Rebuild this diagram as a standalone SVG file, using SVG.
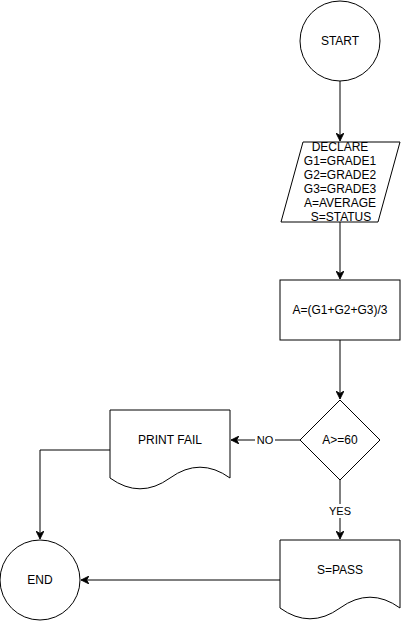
<svg xmlns="http://www.w3.org/2000/svg" width="401" height="621" viewBox="0 0 401 621">
<style>
.s{fill:#fff;stroke:#000;stroke-width:1}
.t{font-family:"Liberation Sans",Arial,sans-serif;font-size:12px;fill:#000;text-anchor:middle;dominant-baseline:central}
.l{font-family:"Liberation Sans",Arial,sans-serif;font-size:11px;fill:#000;text-anchor:middle;dominant-baseline:central}
.c{fill:none;stroke:#000;stroke-width:1}
</style>
<defs>
<marker id="a" viewBox="0 0 10 10" refX="10" refY="5" markerWidth="8" markerHeight="8" markerUnits="userSpaceOnUse" orient="auto">
<path d="M0,0 L10,5 L0,10 L3,5 z" fill="#000" stroke="#000" stroke-width="1"/>
</marker>
</defs>
<rect width="401" height="621" fill="#fff"/>
<g id="connectors">
<path class="c" d="M340,81 L340,141" marker-end="url(#a)"/>
<path class="c" d="M340,222 L340,279" marker-end="url(#a)"/>
<path class="c" d="M340,340 L340,399" marker-end="url(#a)"/>
<path class="c" d="M300,440 L231,440" marker-end="url(#a)"/>
<rect x="255" y="433" width="20" height="14" fill="#fff"/>
<text class="l" x="265" y="440">NO</text>
<path class="c" d="M340,480 L340,539" marker-end="url(#a)"/>
<rect x="328" y="504" width="24" height="14" fill="#fff"/>
<text class="l" x="340" y="511">YES</text>
<path class="c" d="M110,450 L40,450 L40,539" marker-end="url(#a)"/>
<path class="c" d="M280,580 L81,580" marker-end="url(#a)"/>
</g>
<g id="start">
<circle class="s" cx="340" cy="41" r="40"/>
<text class="t" x="340" y="41">START</text>
</g>
<g id="declare">
<path class="s" d="M303,142 L400,142 L378,222 L281,222 Z"/>
<text class="t" x="340" y="147">DECLARE</text>
<text class="t" x="340" y="161">G1=GRADE1</text>
<text class="t" x="340" y="175">G2=GRADE2</text>
<text class="t" x="340" y="189">G3=GRADE3</text>
<text class="t" x="340" y="203">A=AVERAGE</text>
<text class="t" x="341" y="217">S=STATUS</text>
</g>
<g id="compute">
<rect class="s" x="280" y="280" width="120" height="60"/>
<text class="t" x="340" y="310">A=(G1+G2+G3)/3</text>
</g>
<g id="decision">
<path class="s" d="M340,400 L380,440 L340,480 L300,440 Z"/>
<text class="t" x="340" y="440">A&gt;=60</text>
</g>
<g id="printfail">
<path class="s" d="M110,410 L230,410 L230,478 Q200,456.4 170,478 Q140,499.6 110,478 Z"/>
<text class="t" x="170" y="440">PRINT FAIL</text>
</g>
<g id="pass">
<path class="s" d="M280,540 L400,540 L400,608 Q370,586.4 340,608 Q310,629.6 280,608 Z"/>
<text class="t" x="340" y="570">S=PASS</text>
</g>
<g id="end">
<circle class="s" cx="40" cy="580" r="40"/>
<text class="t" x="40" y="580">END</text>
</g>
</svg>
